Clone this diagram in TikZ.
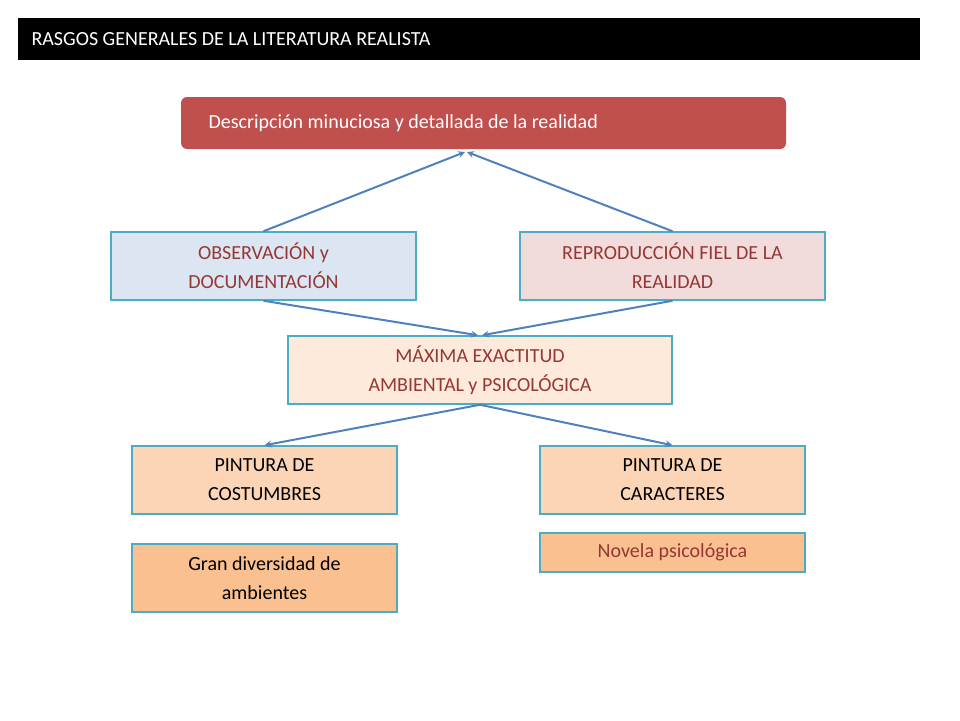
\documentclass[tikz,border=0pt]{standalone}
\usepackage{fontspec}
\setmainfont{Carlito}
\usetikzlibrary{calc}
\definecolor{boxline}{HTML}{4BACC6}
\definecolor{arrowblue}{HTML}{4F81BD}
\definecolor{darkred}{HTML}{953735}
\tikzset{
% box styles for the concept map
plain box/.style={draw=boxline,line width=1.5pt,align=center,text=darkred,inner sep=0},
link/.style={arrowblue,line width=2pt,-stealth}
}
\newcommand{\boxat}[6]{% name, x1, y1, x2, y2, fill
\node(#1)[plain box,fill=#6,minimum width={#4-#2},minimum height={#5-#3}] at ({(#2+#4)/2},{(#3+#5)/2})}

\begin{document}
\begin{tikzpicture}[x=1pt,y=-1pt,font=\fontsize{20}{29}\selectfont]
\useasboundingbox (0,0) rectangle (960,720);
% Title bar
\fill[black] (18,18) rectangle (920,60);
\node(title)[anchor=west,text=white] at (28,39) {RASGOS GENERALES DE LA LITERATURA REALISTA};
% Top box
\fill[rounded corners=6pt,fill={rgb,255:red,192;green,80;blue,77}] (181,97) rectangle (786,149);
\node(top)[anchor=west,text=white] at (205,123) {Descripción minuciosa y detallada de la realidad};
\coordinate(topl) at (465,152);
\coordinate(topr) at (467,152);
% The boxes
\boxat{obs}{111}{232}{416}{300}{{rgb,255:red,220;green,230;blue,242}}{OBSERVACIÓN y\\DOCUMENTACIÓN};
\boxat{rep}{520}{232}{825}{300}{{rgb,255:red,242;green,220;blue,219}}{REPRODUCCIÓN FIEL DE LA\\REALIDAD};
\boxat{max}{288}{336}{672}{404}{{rgb,255:red,253;green,234;blue,218}}{MÁXIMA EXACTITUD\\AMBIENTAL y PSICOLÓGICA};
\boxat{cos}{132}{446}{397}{514}{{rgb,255:red,251;green,213;blue,181}}{\color{black}PINTURA DE\\\color{black}COSTUMBRES};
\boxat{car}{540}{446}{805}{514}{{rgb,255:red,251;green,213;blue,181}}{\color{black}PINTURA DE\\\color{black}CARACTERES};
\boxat{gran}{132}{544}{397}{612}{{rgb,255:red,250;green,192;blue,144}}{\color{black}Gran diversidad de\\\color{black}ambientes};
\boxat{nov}{540}{533}{805}{572}{{rgb,255:red,250;green,192;blue,144}}{Novela psicológica};
% Arrows
\draw[link] (obs.north) -- (topl);
\draw[link] (rep.north) -- (topr);
\draw[link] (obs.south) -- ($(max.north)+(-2,0)$);
\draw[link] (rep.south) -- ($(max.north)+(2,0)$);
\draw[link] (max.south) -- (cos.north);
\draw[link] (max.south) -- (car.north);
\end{tikzpicture}
\end{document}
